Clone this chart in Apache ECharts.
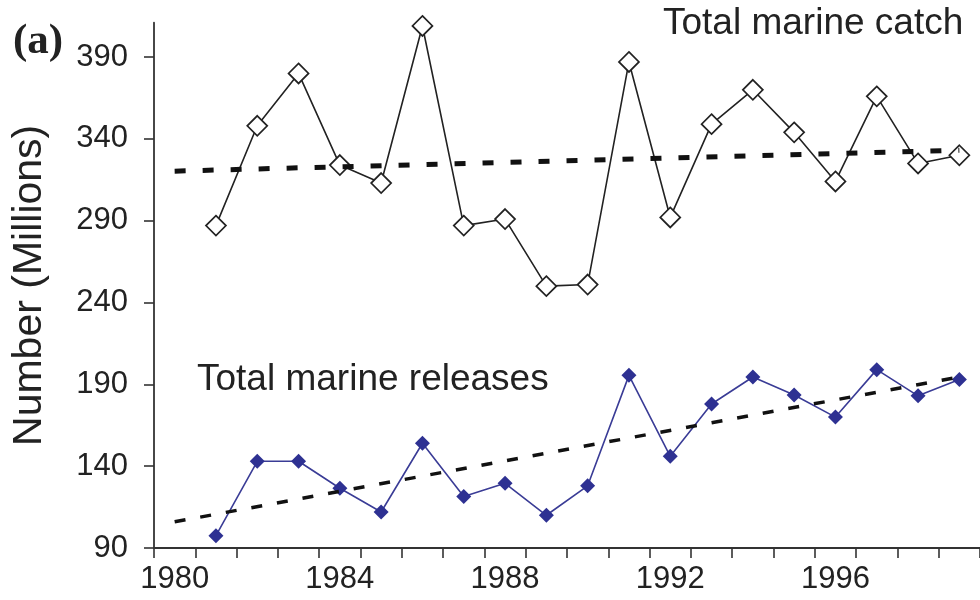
<!DOCTYPE html>
<html>
<head>
<meta charset="utf-8">
<script src="https://cdn.jsdelivr.net/npm/echarts@6/dist/echarts.min.js"></script>
<style>
  html, body { margin: 0; padding: 0; background: #fff; }
  #chart { width: 980px; height: 600px; }
</style>
</head>
<body>
<div id="chart"></div>
<script>
// ---- data ----
const yearCategories = ['1980','1981','1982','1983','1984','1985','1986','1987','1988','1989',
                        '1990','1991','1992','1993','1994','1995','1996','1997','1998','1999'];
const dataYears = ['1981','1982','1983','1984','1985','1986','1987','1988','1989','1990',
                   '1991','1992','1993','1994','1995','1996','1997','1998','1999'];
const totalCatch = [287, 348, 380, 324, 313, 409, 287, 291, 250, 251,
                    387, 292, 349, 370, 344, 314, 366, 325, 330];
const totalReleases = [97.5, 143, 143, 126.5, 112, 154, 121.5, 129.5, 110, 128,
                       195.5, 146, 178, 194.5, 183.5, 170, 199, 183, 193];
const catchTrendYears = ['1980', '1999'];
const catchTrend = [320.3, 333];
const releasesTrendYears = ['1980', '1999'];
const releasesTrend = [106, 194.5];
const yTickValues = [90, 140, 190, 240, 290, 340, 390];

const pairs = (xs, ys) => xs.map((x, i) => [x, ys[i]]);

const chart = echarts.init(document.getElementById('chart'), null, { renderer: 'canvas' });
const textColor = '#222';
const font = 'Liberation Sans, Arial, Helvetica, sans-serif';

chart.setOption({
  animation: false,
  backgroundColor: '#fff',
  grid: { left: 154, top: 22.7, width: 835, height: 525.3, containLabel: false },
  xAxis: {
    type: 'category',
    data: yearCategories,
    boundaryGap: true,
    axisLine: { show: true, lineStyle: { color: '#333', width: 1.8 } },
    axisTick: { show: true, interval: 0, inside: false, alignWithLabel: false, length: 10,
                lineStyle: { color: '#333', width: 1.6 } },
    axisLabel: { interval: 3, margin: 16, color: textColor, fontSize: 31, fontFamily: font },
    splitLine: { show: false }
  },
  yAxis: {
    type: 'value',
    min: 90,
    max: 411,
    name: 'Number (Millions)',
    nameLocation: 'middle',
    nameRotate: 90,
    nameGap: 104,
    nameTextStyle: { color: textColor, fontSize: 41, fontFamily: font },
    axisLine: { show: true, lineStyle: { color: '#333', width: 1.8 } },
    axisTick: { show: true, length: 10, customValues: yTickValues, lineStyle: { color: '#333', width: 1.6 } },
    axisLabel: { customValues: yTickValues, margin: 26, color: textColor, fontSize: 31, fontFamily: font },
    splitLine: { show: false }
  },
  graphic: [
    { type: 'text', left: 13, top: 20, style: { text: '(a)', fontSize: 43, fontWeight: 'bold',
      fontFamily: 'Liberation Serif, Times New Roman, serif', fill: '#222' } },
    { type: 'text', x: 663, y: 23.5, style: { text: 'Total marine catch', fontSize: 37,
      fontFamily: font, fill: textColor, verticalAlign: 'middle', align: 'left' } },
    { type: 'text', x: 197, y: 380, style: { text: 'Total marine releases', fontSize: 37,
      fontFamily: font, fill: textColor, verticalAlign: 'middle', align: 'left' } }
  ],
  series: [
    {
      name: 'Total marine catch',
      type: 'line',
      data: pairs(dataYears, totalCatch),
      symbol: 'diamond',
      symbolSize: [20, 20],
      showAllSymbol: true,
      lineStyle: { color: '#222', width: 1.6 },
      itemStyle: { color: '#fff', borderColor: '#222', borderWidth: 1.7 },
      z: 3
    },
    {
      name: 'Total marine releases',
      type: 'line',
      data: pairs(dataYears, totalReleases),
      symbol: 'diamond',
      symbolSize: 15,
      showAllSymbol: true,
      lineStyle: { color: '#3a3c96', width: 1.6 },
      itemStyle: { color: '#2e3192' },
      z: 3
    },
    {
      name: 'Catch trend',
      type: 'line',
      data: pairs(catchTrendYears, catchTrend),
      symbol: 'none',
      lineStyle: { color: '#111', width: 5, type: [11, 17] },
      z: 4
    },
    {
      name: 'Releases trend',
      type: 'line',
      data: pairs(releasesTrendYears, releasesTrend),
      symbol: 'none',
      lineStyle: { color: '#111', width: 3.5, type: [11, 15] },
      z: 4
    }
  ]
});
</script>
</body>
</html>
